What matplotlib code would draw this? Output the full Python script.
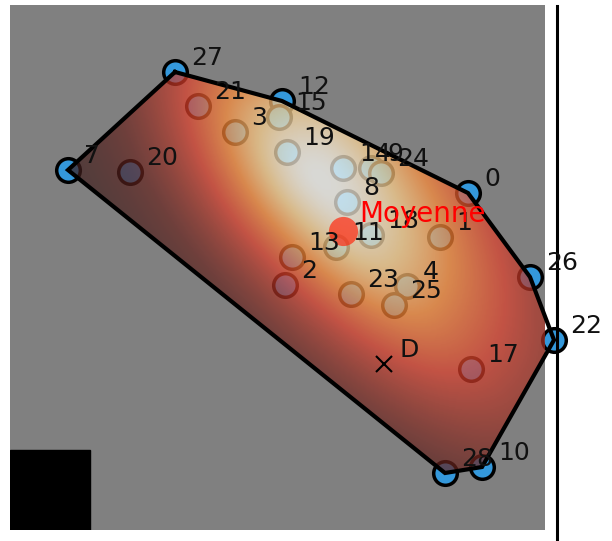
"""Convex hull of 26 points over a heat glow, with the mean ("Moyenne")
and a reference point D. Coordinates are in image pixels (y downwards).

Run:
    python plot.py
"""
import matplotlib.pyplot as plt
import numpy as np
from matplotlib.colors import LinearSegmentedColormap
from matplotlib.patches import Polygon, Rectangle

# === data ===
point_ids = [0, 1, 2, 3, 4, 7, 8, 9, 10, 11, 12, 13, 14,
             15, 17, 18, 19, 20, 21, 22, 23, 24, 25, 26, 27, 28]
point_x = [468, 440, 285, 235, 407, 68, 347, 371, 482, 336, 282, 292, 343,
           279, 471, 371, 287, 130, 198, 554, 351, 381, 394, 530, 175, 445]
point_y = [193, 237, 285, 132, 286, 170, 202, 168, 467, 247, 101, 257, 168,
           117, 369, 235, 152, 172, 106, 340, 294, 173, 305, 277, 72, 473]

# hull, walked clockwise on screen
hull_ids = [27, 12, 0, 26, 22, 10, 28, 7]

mean_label = "Moyenne"
ref_label = "D"
ref_x, ref_y = 384, 364

# heat glow: centre, axis angle (deg), spread along/across the axis
glow_center = (320, 178)
glow_angle = 49
glow_along = (125, 175)   # towards upper-left, towards lower-right
glow_across = (66, 88)    # towards lower-left, towards upper-right

# === figure ===
fig = plt.figure(figsize=(6.12, 5.41), dpi=100)
ax = fig.add_axes([10 / 612, 11 / 541, 535 / 612, 525 / 541])
ax.set_xlim(10, 545)
ax.set_ylim(530, 5)
ax.set_facecolor("#808080")
ax.set_xticks([])
ax.set_yticks([])
for s in ax.spines.values():
    s.set_visible(False)

px = np.array(point_x, dtype=float)
py = np.array(point_y, dtype=float)
pos = {pid: i for i, pid in enumerate(point_ids)}
hull = np.array([[px[pos[h]], py[pos[h]]] for h in hull_ids])

# points first, the glow is laid over them (inside the hull only)
ax.plot(px, py, "o", ms=17, mfc="#3498db", mec="black", mew=2.5,
        zorder=1, clip_on=False)

# glow field (heavy-tailed elliptical bump)
gx, gy = np.meshgrid(np.linspace(10, 545, 400), np.linspace(5, 530, 400))
t = np.deg2rad(glow_angle)
du, dv = gx - glow_center[0], gy - glow_center[1]
along = du * np.cos(t) + dv * np.sin(t)
across = du * np.sin(t) - dv * np.cos(t)
sa = np.where(along < 0, glow_along[0], glow_along[1])
sc = np.where(across < 0, glow_across[0], glow_across[1])
r2 = (along / sa) ** 2 + (across / sc) ** 2
field = (1 + r2 / 4) ** -2

heat = LinearSegmentedColormap.from_list("heat", [
    (0.00, (0.12, 0.11, 0.11)),
    (0.20, (0.40, 0.14, 0.12)),
    (0.45, (0.88, 0.25, 0.17)),
    (0.65, (1.00, 0.55, 0.22)),
    (0.83, (1.00, 0.83, 0.56)),
    (1.00, (1.00, 1.00, 0.98)),
])
hull_patch = Polygon(hull, closed=True, facecolor="none", edgecolor="none",
                     transform=ax.transData)
img = ax.imshow(field, extent=(10, 545, 530, 5), cmap=heat, vmin=0, vmax=1,
                alpha=0.7, interpolation="bilinear", aspect="auto", zorder=2)
img.set_clip_path(hull_patch)

# hull outline
ax.plot(np.append(hull[:, 0], hull[0, 0]), np.append(hull[:, 1], hull[0, 1]),
        color="black", lw=3, solid_joinstyle="miter", zorder=3, clip_on=False)

# point labels
for pid, x, y in zip(point_ids, px, py):
    ax.text(x + 16, y - 7, str(pid), fontsize=18, color="#111111",
            ha="left", va="baseline", zorder=5, clip_on=False)

# mean of the points
mx, my = px.mean(), py.mean()
ax.plot(mx, my, "o", ms=21, color="#ff2a10", mec="none", alpha=0.7, zorder=4)
ax.text(mx + 16, my - 9, mean_label, fontsize=20, color="red",
        ha="left", va="baseline", zorder=6)

# reference point D
ax.plot(ref_x, ref_y, "x", ms=12, color="black", mew=1.5, zorder=4)
ax.text(ref_x + 16, ref_y - 7, ref_label, fontsize=18, color="#111111",
        ha="left", va="baseline", zorder=5)

# black block in the corner and the rule on the right
ax.add_patch(Rectangle((10, 450), 80, 80, color="black", zorder=6))
ax.plot([557, 557], [6, 541], color="black", lw=2.2, zorder=4, clip_on=False)

fig.savefig("out.png", dpi=100)
